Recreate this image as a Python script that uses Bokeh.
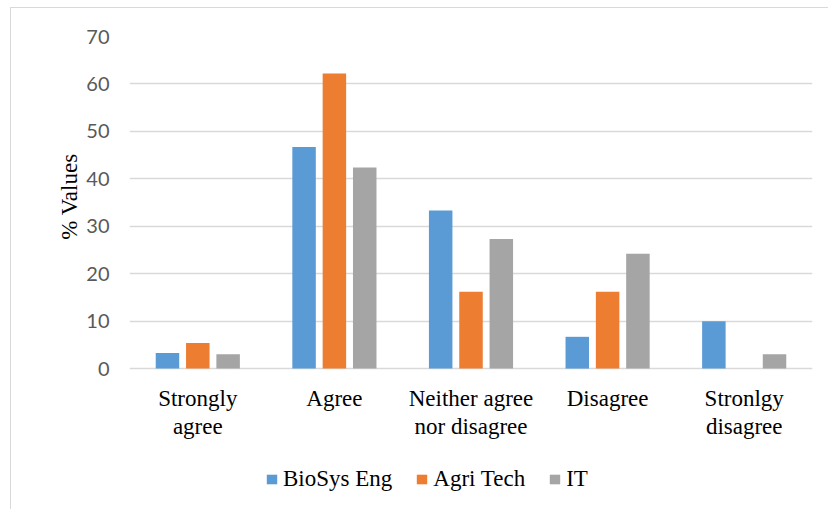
from bokeh.plotting import figure
from bokeh.models import (ColumnDataSource, Range1d, FixedTicker, Legend, LegendItem, Title)
from bokeh.core.properties import value
from bokeh.transform import dodge
from bokeh.embed import file_html
from bokeh.resources import INLINE

categories = ["Strongly\nagree", "Agree", "Neither agree\nnor disagree", "Disagree", "Stronlgy\ndisagree"]
series_names = ["BioSys Eng", "Agri Tech", "IT"]
biosys = [3.3, 46.7, 33.3, 6.7, 10.0]
agri = [5.4, 62.2, 16.2, 16.2, 0.0]
it = [3.0, 42.4, 27.3, 24.2, 3.0]
y_ticks = [0, 10, 20, 30, 40, 50, 60, 70]
colors = ["#5B9BD5", "#ED7D31", "#A5A5A5"]

source = ColumnDataSource(data=dict(cat=categories, biosys=biosys, agri=agri, it=it))
offsets = [-0.222, 0.0, 0.222]
fields = ["biosys", "agri", "it"]

# frame runs from the 70 line down to the bottom, so the legend can sit inside it
p = figure(x_range=categories, y_range=Range1d(-29.7, 70), width=828, height=509,
           output_backend="svg", toolbar_location=None,
           min_border_left=129, min_border_right=16, min_border_top=36, min_border_bottom=0)
p.border_fill_color = None
p.background_fill_color = "white"
p.styles = {"background": "linear-gradient(#d9d9d9,#d9d9d9) 10px 7px / 1px 100% no-repeat, "
                          "linear-gradient(#d9d9d9,#d9d9d9) 10px 7px / 100% 1px no-repeat, white"}

renderers = []
for f, off, c in zip(fields, offsets, colors):
    r = p.vbar(x=dodge("cat", off, range=p.x_range), top=f, width=0.172, source=source,
               fill_color=c, line_color=None)
    renderers.append(r)

# category labels under the zero line
p.text(x="cat", y=0, text="cat", source=source, y_offset=17,
       text_align="center", text_baseline="top",
       text_font=value("Liberation Serif"), text_font_size="23px",
       text_line_height=1.12, text_color="#000000")

p.outline_line_color = None
p.xaxis.visible = False
p.xgrid.grid_line_color = None
p.ygrid.grid_line_color = "#D9D9D9"
p.ygrid.grid_line_width = 1.5
p.yaxis.ticker = FixedTicker(ticks=y_ticks)

p.yaxis.axis_line_color = None
p.yaxis.major_tick_line_color = None
p.yaxis.minor_tick_line_color = None
p.yaxis.major_tick_out = 0
p.yaxis.major_label_standoff = 20
p.yaxis.major_label_text_font = "Lato"
p.yaxis.major_label_text_font_size = "20px"
p.yaxis.major_label_text_color = "#595959"

ytitle = Title(text="% Values", align="right", offset=117, standoff=4,
               text_font="Liberation Serif", text_font_style="normal",
               text_font_size="23px", text_color="#000000")
p.add_layout(ytitle, "left")

legend = Legend(items=[LegendItem(label=n, renderers=[r]) for n, r in zip(series_names, renderers)],
                orientation="horizontal", location=(136, 17),
                label_text_font="Liberation Serif", label_text_font_size="23px",
                label_text_font_style="normal",
                label_text_color="#000000", glyph_width=13, glyph_height=12,
                label_standoff=5, spacing=23, padding=0, margin=0,
                border_line_color=None, background_fill_alpha=0)
p.add_layout(legend, "center")

open("out.html", "w").write(file_html(p, INLINE))
